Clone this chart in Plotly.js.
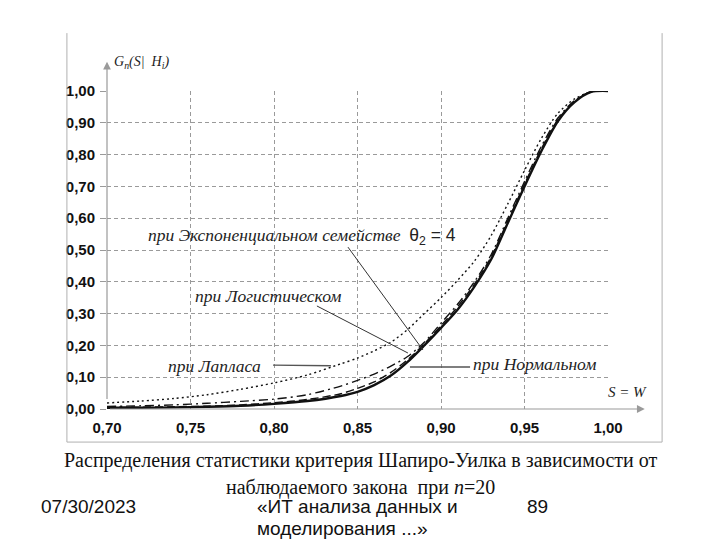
<!DOCTYPE html>
<html>
<head>
<meta charset="utf-8">
<script src="https://cdn.plot.ly/plotly-3.0.1.min.js"></script>
<style>
  html, body { margin: 0; padding: 0; background: #fff; }
  #chart { width: 720px; height: 540px; }
</style>
</head>
<body>
<div id="chart"></div>
<script>
// статистика S = W
const S = [0.70, 0.72, 0.74, 0.76, 0.78, 0.80, 0.82, 0.84, 0.85, 0.86, 0.87, 0.88,
           0.89, 0.90, 0.91, 0.92, 0.93, 0.94, 0.95, 0.96, 0.97, 0.98, 0.99, 1.00];

const laplace = [0.019, 0.025, 0.033, 0.045, 0.062, 0.082, 0.107, 0.142, 0.160, 0.183, 0.210, 0.250,
                 0.300, 0.350, 0.405, 0.465, 0.545, 0.645, 0.750, 0.850, 0.930, 0.975, 0.998, 1.000];
const logistic = [0.008, 0.010, 0.013, 0.018, 0.024, 0.031, 0.045, 0.072, 0.090, 0.110, 0.135, 0.165,
                  0.210, 0.270, 0.330, 0.400, 0.485, 0.600, 0.715, 0.825, 0.915, 0.970, 0.998, 1.000];
const expon = [0.006, 0.006, 0.007, 0.009, 0.013, 0.020, 0.030, 0.048, 0.065, 0.085, 0.115, 0.155,
               0.205, 0.262, 0.322, 0.393, 0.478, 0.592, 0.707, 0.817, 0.910, 0.968, 0.998, 1.000];
const normal = [0.004, 0.004, 0.005, 0.007, 0.010, 0.016, 0.025, 0.041, 0.054, 0.075, 0.105, 0.148,
                0.200, 0.255, 0.313, 0.385, 0.470, 0.585, 0.700, 0.810, 0.905, 0.965, 0.997, 1.000];

const xTicks = [0.70, 0.75, 0.80, 0.85, 0.90, 0.95, 1.00];
const xTickText = ['0,70', '0,75', '0,80', '0,85', '0,90', '0,95', '1,00'];
const yTicks = [0, 0.1, 0.2, 0.3, 0.4, 0.5, 0.6, 0.7, 0.8, 0.9, 1.0];
const yTickText = ['0,00', '0,10', '0,20', '0,30', '0,40', '0,50', '0,60', '0,70', '0,80', '0,90', '1,00'];

const serif = 'Liberation Serif, Times New Roman, serif';
const sans = 'Liberation Sans, Arial, sans-serif';
const grey = '#9a9a9a';

function curve(y, dash, width) {
  return {
    x: S, y: y, mode: 'lines', hoverinfo: 'skip',
    line: { color: '#111', width: width, dash: dash, shape: 'spline', smoothing: 0.8 }
  };
}

const traces = [
  curve(laplace, '2px,3px', 1.4),
  curve(logistic, '9px,4px,2px,4px', 1.4),
  curve(expon, '8px,4px', 1.4),
  curve(normal, 'solid', 2.4)
];

function pointer(x0, y0, x1, y1, color, w) {
  return { type: 'line', xref: 'x', yref: 'y', x0, y0, x1, y1,
           line: { color: color, width: w } };
}
function frameLine(x0, y0, x1, y1) {
  return { type: 'line', xref: 'paper', yref: 'paper', x0, y0, x1, y1,
           line: { color: '#b0b0b0', width: 1 } };
}

const label = (x, y, text, size, anchor) => ({
  x, y, xref: 'x', yref: 'y', text, showarrow: false, xanchor: anchor || 'left',
  font: { family: serif, size: size, color: '#222' }
});
const note = (x, y, text, font, anchor) => ({
  x, y, xref: 'paper', yref: 'paper', text, showarrow: false,
  xanchor: anchor || 'center', yanchor: 'middle', font
});
const axisArrow = (x, y) => ({
  x, y, ax: 0.70, ay: 0, axref: 'x', ayref: 'y', xref: 'x', yref: 'y',
  text: ' ', showarrow: true, arrowhead: 2, arrowsize: 1.3, arrowwidth: 1.2, arrowcolor: grey
});

const layout = {
  width: 720, height: 540,
  margin: { l: 107, r: 112, t: 91, b: 131 },
  paper_bgcolor: '#fff', plot_bgcolor: '#fff',
  showlegend: false,
  xaxis: {
    range: [0.70, 1.00], tickvals: xTicks, ticktext: xTickText,
    showgrid: true, gridcolor: grey, griddash: '4px,3px', gridwidth: 1,
    zeroline: false, showline: false, ticks: '', ticklabelstandoff: 8,
    tickfont: { family: sans, size: 15, color: '#111', weight: 'bold' }
  },
  yaxis: {
    range: [0, 1.0], tickvals: yTicks, ticktext: yTickText,
    showgrid: true, gridcolor: grey, griddash: '4px,3px', gridwidth: 1,
    zeroline: false, showline: false, ticks: 'outside', ticklen: 6, tickcolor: grey,
    ticklabelstandoff: 2,
    tickfont: { family: sans, size: 15, color: '#111', weight: 'bold' }
  },
  shapes: [
    frameLine(-0.08, 1.182, -0.08, -0.104),
    frameLine(-0.08, -0.104, 1.108, -0.104),
    frameLine(1.108, -0.104, 1.108, 1.182),
    pointer(0.8443, 0.509, 0.8892, 0.1855, '#333', 1),
    pointer(0.8257, 0.324, 0.8802, 0.176, '#333', 1),
    pointer(0.7994, 0.138, 0.8341, 0.136, '#555', 1.3),
    pointer(0.8814, 0.132, 0.9174, 0.132, '#555', 1.3)
  ],
  annotations: [
    // оси со стрелками
    axisArrow(0.70, 1.092),
    axisArrow(1.022, 0),
    note(0.010, 1.091, '<i>G<sub>n</sub>(S|  H<sub>i</sub>)</i>',
         { family: serif, size: 14, color: '#222' }, 'left'),
    note(1.038, 0.053, '<i>S = W</i>', { family: serif, size: 15, color: '#222' }),
    label(0.7234, 0.541, '<i>при Экспоненциальном семействе</i>  <span style="font-family:Liberation Sans;font-style:normal">θ<sub>2</sub> = 4</span>', 17.5),
    label(0.7515, 0.355, '<i>при Логистическом</i>', 17.5),
    label(0.7353, 0.135, '<i>при Лапласа</i>', 17.5),
    label(0.9180, 0.141, '<i>при Нормальном</i>', 17.5),
    // подпись и колонтитул
    note(0.505, -0.162, 'Распределения статистики критерия Шапиро-Уилка в зависимости от',
         { family: serif, size: 20, color: '#111' }),
    note(0.505, -0.247, 'наблюдаемого закона  при <i>n</i>=20',
         { family: serif, size: 20, color: '#111' }),
    note(-0.135, -0.308, '07/30/2023', { family: sans, size: 19, color: '#111' }, 'left'),
    note(0.295, -0.308, '«ИТ анализа данных и', { family: sans, size: 19, color: '#111' }, 'left'),
    note(0.295, -0.376, 'моделирования ...»', { family: sans, size: 19, color: '#111' }, 'left'),
    note(0.834, -0.308, '89', { family: sans, size: 19, color: '#111' }, 'left')
  ]
};

Plotly.newPlot('chart', traces, layout, { staticPlot: true });
</script>
</body>
</html>
